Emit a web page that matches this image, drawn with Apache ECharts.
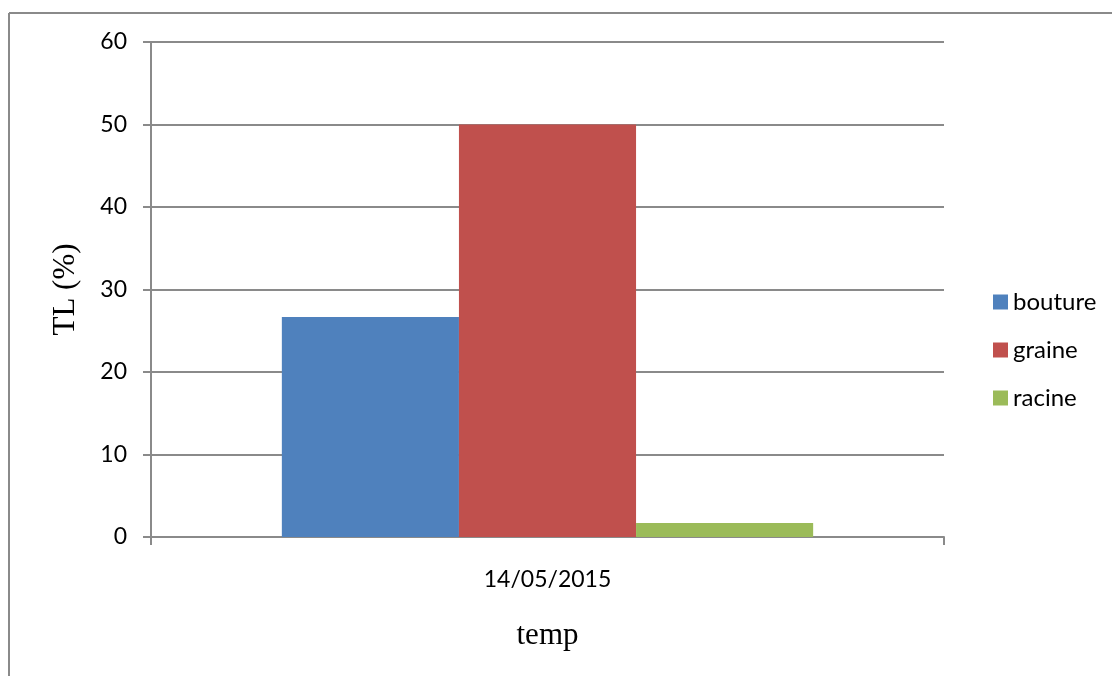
<!DOCTYPE html>
<html><head><meta charset="utf-8">
<script src="https://cdn.jsdelivr.net/npm/echarts@6/dist/echarts.min.js"></script>
<style>html,body{margin:0;padding:0;background:#fff}#c{width:1112px;height:676px}</style>
</head><body><div id="c"></div>
<script>
const categories = ['14/05/2015'];
const seriesNames = ['bouture', 'graine', 'racine'];
const bouture = [26.67];
const graine = [50];
const racine = [1.7];
const yTicks = [0, 10, 20, 30, 40, 50, 60];
const colors = ['#4F81BD', '#C0504D', '#9BBB59'];
const values = [bouture, graine, racine];

const chart = echarts.init(document.getElementById('c'), null, {renderer: 'canvas'});
chart.setOption({
  animation: false,
  backgroundColor: '#fff',
  textStyle: {fontFamily: 'Lato'},
  graphic: [
    {type: 'line', shape: {x1: 9, y1: 13, x2: 9, y2: 676}, style: {stroke: '#8a8a8a', lineWidth: 2}},
    {type: 'line', shape: {x1: 9, y1: 13, x2: 1112, y2: 13}, style: {stroke: '#8a8a8a', lineWidth: 2}}
  ],
  grid: {left: 151, right: 168, top: 42, bottom: 139},
  legend: {
    orient: 'vertical', left: 988, top: 285,
    itemWidth: 15, itemHeight: 15, itemGap: 24,
    icon: 'rect',
    textStyle: {fontFamily: 'Lato', fontSize: 24, color: '#000'},
    data: seriesNames
  },
  xAxis: {
    type: 'category', data: categories,
    name: 'temp', nameLocation: 'middle', nameGap: 83,
    nameTextStyle: {fontFamily: 'Liberation Serif', fontSize: 31, color: '#000'},
    axisLine: {lineStyle: {color: '#8a8a8a', width: 2}},
    axisTick: {show: true, length: 8, lineStyle: {color: '#8a8a8a', width: 2}},
    axisLabel: {margin: 31, fontSize: 23, color: '#000', fontFamily: 'Lato'}
  },
  yAxis: {
    type: 'value', min: yTicks[0], max: yTicks[yTicks.length - 1], interval: 10,
    name: 'TL (%)', nameLocation: 'middle', nameGap: 70,
    nameTextStyle: {fontFamily: 'Liberation Serif', fontSize: 31, color: '#000'},
    axisLine: {show: true, lineStyle: {color: '#8a8a8a', width: 2}},
    axisTick: {show: true, length: 8, lineStyle: {color: '#8a8a8a', width: 2}},
    axisLabel: {margin: 24, fontSize: 23, color: '#000', fontFamily: 'Lato'},
    splitLine: {show: true, lineStyle: {color: '#8a8a8a', width: 2}}
  },
  series: seriesNames.map((n, i) => ({
    name: n, type: 'bar', data: values[i],
    itemStyle: {color: colors[i]},
    barGap: '0%', barCategoryGap: '33%'
  }))
});
</script></body></html>
